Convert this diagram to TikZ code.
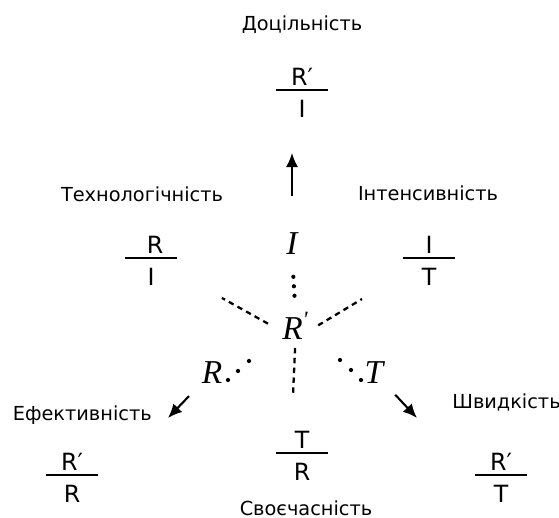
\documentclass[tikz,border=0pt]{standalone}
\usepackage{fontspec}
\setmainfont{Liberation Serif}
\newfontfamily\signfont{DejaVu Sans}
\usetikzlibrary{positioning,arrows.meta}
\tikzset{
	x=0.02cm, y=-0.02cm, % one unit is one pixel of the source picture
	title/.style={font=\signfont\fontsize{11}{13}\selectfont, inner sep=0pt},
	ratio/.style={font=\signfont\fontsize{13.5}{15}\selectfont, inner sep=0pt},
	var/.style={font=\itshape\fontsize{19}{22}\selectfont, inner sep=0pt},
	bar/.style={fill, minimum width=1.04cm, minimum height=1.6pt, inner sep=0pt},
	num/.style={ratio, above=0.05cm of #1},
	den/.style={ratio, below=0.16cm of #1},
	axis/.style={line width=1.3pt, dash pattern=on 3.1pt off 2.5pt},
	dotline/.style={line width=2.4pt, line cap=round, dash pattern=on 0pt off 5.4pt},
	pointer/.style={line width=1.2pt, -{Latex[length=8pt,width=7pt]}}
}
\begin{document}
\begin{tikzpicture}
\useasboundingbox (0,0) rectangle (559,518);
% headings
\node[title, anchor=base] (goal) at (302,30) {Доцільність};
\node[title, anchor=base] (tech) at (142,201) {Технологічність};
\node[title, anchor=base] (inten) at (428,200) {Інтенсивність};
\node[title, anchor=base east] (effic) at (152,420) {Ефективність};
\node[title, anchor=base west] (speed) at (452,408) {Швидкість};
\node[title, anchor=base] (timel) at (306,515) {Своєчасність};
% ratios
\node[bar] (goalbar) at (302,90) {};
\node[num=goalbar] (goalnum) {R′};
\node[den=goalbar] (goalden) {I};
\node[bar] (techbar) at (151,258) {};
\node[num=techbar, xshift=0.08cm] (technum) {R};
\node[den=techbar] (techden) {I};
\node[bar] (intenbar) at (429,258) {};
\node[num=intenbar] (intennum) {I};
\node[den=intenbar] (intenden) {T};
\node[bar] (efficbar) at (72,475) {};
\node[num=efficbar] (efficnum) {R′};
\node[den=efficbar] (efficden) {R};
\node[bar] (timelbar) at (302,453) {};
\node[num=timelbar] (timelnum) {T};
\node[den=timelbar] (timelden) {R};
\node[bar] (speedbar) at (501,475) {};
\node[num=speedbar] (speednum) {R′};
\node[den=speedbar] (speedden) {T};
% variables
\node[var, anchor=base] (ivar) at (292,254) {I};
\node[var, anchor=base west] (rvar) at (282,339) {R\textsuperscript{\textquotesingle}};
\node[var, anchor=base] (rleft) at (212,383) {R};
\node[var, anchor=base] (tright) at (374,383) {T};
\foreach \p in {(228,380),(238,371),(249,361),(340,360),(351,370),(361,380)}
	\fill \p circle (1.2pt);
% free ends
\coordinate (ulEnd) at (222,298);
\coordinate (urEnd) at (362,299);
\coordinate (dnEnd) at (293,395);
\coordinate (upHead) at (292,153);
\coordinate (llHead) at (168,418);
\coordinate (lrHead) at (417,418);
% connectors
\draw[dotline, shorten <=0.45cm, shorten >=0.2cm] (ivar.south) -- (rvar.north);
\draw[axis, shorten <=0.63cm] (rvar.base) -- (ulEnd);
\draw[axis, shorten <=0.53cm] (rvar.base) -- (urEnd);
\draw[axis, shorten <=0.18cm] (rvar.base) -- (dnEnd);
\draw[pointer, shorten <=0.72cm] (ivar.north) -- (upHead);
\draw[pointer, shorten <=0.36cm] (rleft) -- (llHead);
\draw[pointer, shorten <=0.34cm] (tright) -- (lrHead);
\end{tikzpicture}
\end{document}
